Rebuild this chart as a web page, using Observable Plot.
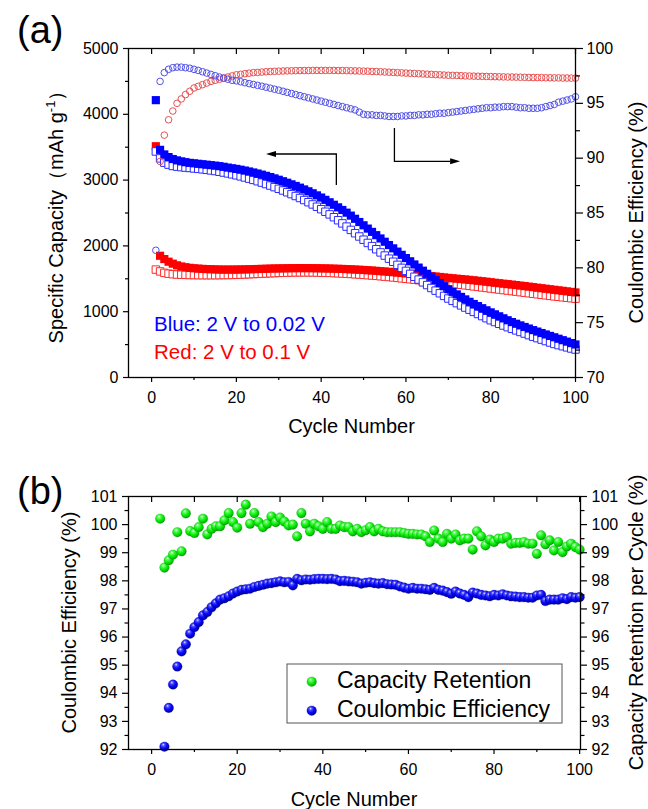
<!DOCTYPE html>
<html><head><meta charset="utf-8">
<script src="https://cdn.jsdelivr.net/npm/d3@7"></script>
<script src="https://cdn.jsdelivr.net/npm/@observablehq/plot@0.6"></script>
<style>
body{margin:0;background:#fff;}
#wrap{position:relative;width:648px;height:809px;overflow:hidden;background:#fff;}
#wrap svg{position:absolute;left:0;overflow:visible;}
</style></head><body><div id="wrap"></div>
<script>
const FONT = '"Liberation Sans", Arial, Helvetica, sans-serif';

// ---------- Panel (a) data: cycles 1..100 ----------
const blueDischarge = [4215,3460,3390,3350,3320,3300,3285,3272,3262,3255,
 3248,3241,3234,3227,3220,3212,3202,3190,3180,3170,
 3158,3145,3131,3116,3100,3083,3065,3046,3026,3005,
 2983,2960,2936,2911,2885,2858,2830,2800,2768,2735,
 2700,2663,2625,2586,2546,2505,2460,2412,2363,2313,
 2263,2213,2163,2113,2063,2013,1963,1913,1864,1815,
 1766,1718,1670,1623,1576,1530,1482,1435,1388,1342,
 1302,1263,1225,1187,1150,1117,1085,1053,1021,990,
 960,930,900,870,842,817,792,768,744,720,
 698,676,654,632,611,589,567,545,523,502];
const blueCharge = [3435,3330,3265,3235,3215,3205,3197,3190,3184,3178,
 3171,3164,3156,3147,3138,3127,3115,3102,3088,3073,
 3057,3040,3022,3003,2983,2962,2940,2917,2893,2868,
 2842,2815,2787,2758,2728,2697,2664,2630,2595,2558,
 2519,2479,2436,2390,2342,2293,2243,2193,2143,2094,
 2045,1997,1949,1901,1853,1806,1759,1712,1666,1620,
 1575,1531,1488,1446,1405,1360,1320,1280,1240,1200,
 1165,1130,1096,1063,1030,997,965,933,901,870,
 843,816,790,765,740,716,692,668,644,620,
 598,576,554,532,510,492,475,458,441,425];
const redDischarge = [3515,1850,1800,1760,1730,1705,1688,1676,1667,1660,
 1655,1651,1648,1645,1643,1641,1640,1640,1640,1641,
 1642,1643,1645,1647,1649,1651,1653,1655,1657,1658,
 1659,1660,1661,1662,1662,1662,1662,1661,1660,1659,
 1658,1656,1654,1652,1650,1647,1644,1641,1638,1634,
 1630,1626,1621,1616,1611,1606,1600,1594,1588,1582,
 1576,1570,1563,1556,1549,1542,1535,1528,1521,1514,
 1508,1502,1496,1490,1484,1477,1470,1463,1456,1448,
 1440,1433,1426,1419,1412,1405,1397,1389,1381,1373,
 1365,1357,1349,1341,1333,1325,1317,1309,1301,1293];
const redCharge = [1640,1612,1590,1578,1570,1565,1562,1560,1558,1557,
 1556,1555,1555,1555,1555,1556,1557,1558,1559,1561,
 1563,1566,1569,1572,1575,1578,1581,1584,1587,1590,
 1592,1594,1596,1597,1598,1598,1598,1597,1596,1594,
 1592,1590,1587,1584,1581,1577,1573,1569,1565,1560,
 1555,1550,1545,1539,1533,1527,1521,1514,1507,1500,
 1493,1486,1479,1472,1465,1458,1451,1444,1437,1430,
 1423,1416,1409,1401,1393,1385,1377,1369,1361,1353,
 1345,1337,1329,1321,1313,1305,1297,1289,1281,1273,
 1265,1257,1249,1241,1233,1226,1219,1212,1205,1198];
// Coulombic efficiency (%) — blue, cycles 1..100
const blueCE = [81.6,97.0,97.8,98.1,98.25,98.3,98.3,98.25,98.2,98.1,
 98.0,97.88,97.76,97.64,97.52,97.4,97.3,97.2,97.1,97.05,
 96.97,96.88,96.8,96.72,96.64,96.56,96.47,96.38,96.29,96.2,
 96.1,96.0,95.9,95.8,95.7,95.6,95.5,95.4,95.3,95.2,
 95.1,95.0,94.9,94.8,94.7,94.6,94.5,94.4,94.2,94.0,
 93.95,93.95,93.9,93.9,93.85,93.8,93.8,93.8,93.85,93.85,
 93.9,93.9,93.95,93.95,94.0,94.0,94.05,94.1,94.1,94.15,
 94.2,94.25,94.3,94.35,94.4,94.45,94.5,94.55,94.6,94.6,
 94.65,94.65,94.7,94.7,94.7,94.65,94.6,94.6,94.55,94.55,
 94.55,94.6,94.7,94.8,94.9,95.1,95.2,95.3,95.4,95.6];
// Coulombic efficiency (%) — red, cycles 2..100
const redCE = [89.7,92.1,93.5,94.3,95.0,95.4,95.8,96.1,96.4,
 96.55,96.7,96.85,97.0,97.1,97.2,97.3,97.4,97.5,97.6,
 97.65,97.7,97.75,97.8,97.82,97.85,97.88,97.9,97.92,97.93,
 97.95,97.96,97.97,97.98,97.98,97.99,97.99,98.0,98.0,98.0,
 98.0,98.0,98.0,97.99,97.99,97.98,97.97,97.96,97.95,97.94,
 97.93,97.91,97.9,97.88,97.86,97.84,97.82,97.8,97.78,97.76,
 97.74,97.72,97.7,97.68,97.66,97.64,97.62,97.6,97.58,97.56,
 97.55,97.54,97.52,97.5,97.49,97.48,97.47,97.46,97.45,97.44,
 97.43,97.42,97.41,97.4,97.4,97.39,97.38,97.37,97.36,97.35,
 97.35,97.34,97.33,97.33,97.32,97.32,97.31,97.31,97.3,97.3];

// ---------- Panel (b) data ----------
// Capacity retention per cycle (%), cycles 2..100
const retention = [100.21,98.47,98.73,98.93,99.73,99.05,100.4,99.77,99.7,
 99.91,100.21,99.65,99.85,99.94,99.94,100.15,100.41,100.09,99.89,
 100.41,100.71,100.03,100.41,100.09,99.91,100.03,100.29,100.09,100.25,
 100.11,99.97,100.0,99.58,100.41,100.03,99.76,100.03,99.94,99.85,
 100.09,99.85,99.85,99.97,99.91,99.91,99.76,99.85,99.73,99.8,
 99.91,99.76,99.85,99.76,99.73,99.73,99.73,99.73,99.7,99.67,
 99.67,99.65,99.65,99.58,99.38,99.79,99.5,99.38,99.67,99.5,
 99.65,99.44,99.5,99.5,99.11,99.76,99.58,99.26,99.47,99.38,
 99.5,99.5,99.56,99.32,99.35,99.35,99.38,99.32,99.32,98.96,
 99.62,99.3,99.44,99.08,99.38,99.02,99.22,99.32,99.2,99.11];
// Coulombic efficiency (%), cycles 3..100
const efficiencyB = [92.1,93.48,94.31,94.95,95.49,95.74,96.12,96.35,
 96.53,96.77,96.89,97.06,97.2,97.33,97.38,97.45,97.55,97.62,
 97.68,97.7,97.72,97.78,97.82,97.86,97.9,97.92,97.95,97.98,
 97.95,97.96,97.84,98.07,98.02,98.05,98.04,98.06,98.07,98.07,
 98.06,98.07,98.05,97.99,98.0,97.98,97.97,97.95,97.9,97.93,
 97.95,97.92,97.9,97.92,97.88,97.87,97.86,97.8,97.76,97.72,
 97.75,97.72,97.72,97.7,97.68,97.75,97.68,97.65,97.6,97.54,
 97.62,97.55,97.5,97.42,97.58,97.55,97.5,97.48,97.45,97.5,
 97.48,97.52,97.48,97.45,97.44,97.42,97.42,97.4,97.4,97.48,
 97.5,97.28,97.33,97.33,97.33,97.38,97.35,97.42,97.4,97.42];

// ---------- ticks ----------
const cycleMajor = [0,20,40,60,80,100];
const cycleMinor = [10,30,50,70,90];
const cycleTop = [0,10,20,30,40,50,60,70,80,90,100];
const capMajor = [0,1000,2000,3000,4000,5000];
const capMinor = [500,1500,2500,3500,4500];
const ceMajorA = [70,75,80,85,90,95,100];
const ceMinorA = [72.5,77.5,82.5,87.5,92.5,97.5];
const pctMajorB = [92,93,94,95,96,97,98,99,100,101];
const pctMinorB = [92.5,93.5,94.5,95.5,96.5,97.5,98.5,99.5,100.5];

// annotations (panel a, data units)
const arrowLeft = [[43.7,2918],[43.7,3389],[27.1,3389]];
const arrowRight = [[57.4,3784],[57.4,3278],[72.9,3278]];
const notes = [
  {text:"Blue: 2 V to 0.02 V", x:0.7, y:704, color:"#0000ff"},
  {text:"Red: 2 V to 0.1 V", x:0.7, y:272, color:"#ff0000"}
];

// ---------- build ----------
const toCap = ce => (ce - 70) / 30 * 5000;
const fromCap = v => v / 5000 * 30 + 70;

const rowsA = blueDischarge.map((v,i) => ({c:i+1, bd:v, bc:blueCharge[i], rd:redDischarge[i], rc:redCharge[i], bce:toCap(blueCE[i])}));
const rowsRCE = redCE.map((v,i) => ({c:i+2, y:toCap(v)}));
const rowsRet = retention.map((v,i) => ({c:i+2, y:v}));
const rowsEff = efficiencyB.map((v,i) => ({c:i+3, y:v}));

const blank = () => "";
const TW = 1.2;

const chartA = Plot.plot({
  width:648, height:420, marginTop:48, marginBottom:43, marginLeft:128, marginRight:73,
  style:{fontFamily:FONT, fontSize:"16px", color:"black", background:"transparent", overflow:"visible"},
  x:{domain:[-5.45,100], label:null},
  y:{domain:[0,5000], label:null},
  marks:[
    Plot.dot(rowsA, {x:"c", y:"rc", symbol:"square", r:4.2, fill:"white", stroke:"#ff2a2a", strokeWidth:1}),
    Plot.dot(rowsA, {x:"c", y:"rd", symbol:"square", r:4.6, fill:"#ff0000"}),
    Plot.dot(rowsA, {x:"c", y:"bc", symbol:"square", r:4.2, fill:"white", stroke:"#2a2aff", strokeWidth:1}),
    Plot.dot(rowsA, {x:"c", y:"bd", symbol:"square", r:4.6, fill:"#0000ff"}),
    Plot.dot(rowsRCE, {x:"c", y:"y", r:3.3, fill:"none", stroke:"#e85050", strokeWidth:1}),
    Plot.dot(rowsA, {x:"c", y:"bce", r:3.3, fill:"none", stroke:"#5050e8", strokeWidth:1}),
    Plot.frame({stroke:"black", strokeWidth:1.3}),
    Plot.axisX({ticks:cycleMajor, anchor:"bottom", tickSize:5, tickPadding:9, label:null, strokeWidth:TW, fontSize:16, tickFormat:d=>String(d)}),
    Plot.axisX({ticks:cycleMinor, anchor:"bottom", tickSize:3, label:null, strokeWidth:TW, tickFormat:blank}),
    Plot.axisX({ticks:cycleTop, anchor:"top", tickSize:5, dy:5, label:null, strokeWidth:TW, tickFormat:blank}),
    Plot.axisY({ticks:capMajor, anchor:"left", tickSize:5, tickPadding:5, label:null, strokeWidth:TW, fontSize:16, tickFormat:d=>String(d)}),
    Plot.axisY({ticks:capMinor, anchor:"left", tickSize:3, label:null, strokeWidth:TW, tickFormat:blank}),
    Plot.axisY({ticks:ceMajorA.map(toCap), anchor:"right", tickSize:7, tickPadding:4, label:null, strokeWidth:TW, fontSize:16, tickFormat:v=>String(Math.round(fromCap(v)))}),
    Plot.axisY({ticks:ceMinorA.map(toCap), anchor:"right", tickSize:4, label:null, strokeWidth:TW, tickFormat:blank})
  ]
});

const chartB = Plot.plot({
  width:648, height:389, marginTop:76, marginBottom:60, marginLeft:128, marginRight:68,
  style:{fontFamily:FONT, fontSize:"16px", color:"black", background:"transparent", overflow:"visible"},
  x:{domain:[-5.4,100.2], label:null},
  y:{domain:[92,101], label:null},
  marks:[
    Plot.dot(rowsRet, {x:"c", y:"y", r:4.8, fill:"url(#ballGreen)", stroke:"#0a9a0a", strokeWidth:0.3}),
    Plot.dot(rowsEff, {x:"c", y:"y", r:4.8, fill:"url(#ballBlue)", stroke:"#000090", strokeWidth:0.3}),
    Plot.frame({stroke:"black", strokeWidth:1.3}),
    Plot.axisX({ticks:cycleMajor, anchor:"bottom", tickSize:5, tickPadding:9, label:null, strokeWidth:TW, fontSize:16, tickFormat:d=>String(d)}),
    Plot.axisX({ticks:cycleMinor, anchor:"bottom", tickSize:3, label:null, strokeWidth:TW, tickFormat:blank}),
    Plot.axisX({ticks:cycleTop, anchor:"top", tickSize:5, dy:5, label:null, strokeWidth:TW, tickFormat:blank}),
    Plot.axisY({ticks:pctMajorB, anchor:"left", tickSize:6, tickPadding:5, label:null, strokeWidth:TW, fontSize:16, tickFormat:d=>String(d)}),
    Plot.axisY({ticks:pctMinorB, anchor:"left", tickSize:3.5, label:null, strokeWidth:TW, tickFormat:blank}),
    Plot.axisY({ticks:pctMajorB, anchor:"right", tickSize:6, tickPadding:5, label:null, strokeWidth:TW, fontSize:16, tickFormat:d=>String(d)}),
    Plot.axisY({ticks:pctMinorB, anchor:"right", tickSize:3.5, label:null, strokeWidth:TW, tickFormat:blank})
  ]
});

const wrap = document.getElementById("wrap");
chartA.style.top = "0px";
chartB.style.top = "420px";
wrap.appendChild(chartA);
wrap.appendChild(chartB);

// ---------- decorations ----------
const sA = d3.select(chartA), sB = d3.select(chartB);
const xA = chartA.scale("x"), yA = chartA.scale("y");

function addText(svg, str, x, y, size, opts={}) {
  const t = svg.append("text").attr("x", x).attr("y", y)
    .attr("font-family", FONT).attr("font-size", size)
    .attr("fill", opts.fill || "black")
    .attr("text-anchor", opts.anchor || "start");
  if (opts.rotate) t.attr("transform", `rotate(${opts.rotate},${x},${y})`);
  t.text(str);
  return t;
}

// panel labels
addText(sA, "(a)", 17, 43, 38);
addText(sB, "(b)", 17, 84, 38);

// axis titles A
addText(sA, "Cycle Number", 351.5, 433, 20, {anchor:"middle"});
{
  const t = sA.append("text").attr("font-family", FONT).attr("font-size", 20)
    .attr("text-anchor", "middle").attr("transform", "translate(62.5,212) rotate(-90)");
  t.append("tspan").text("Specific Capacity\uFF08mAh g");
  t.append("tspan").attr("dy", -8).attr("font-size", 13).text("-1");
  t.append("tspan").attr("dy", 8).text("\uFF09");
}
addText(sA, "Coulombic Efficiency (%)", 642.5, 212.5, 20, {anchor:"middle", rotate:-90});

// axis titles B
addText(sB, "Cycle Number", 354, 385.7, 20, {anchor:"middle"});
addText(sB, "Coulombic Efficiency (%)", 76, 202.5, 20, {anchor:"middle", rotate:-90});
addText(sB, "Capacity Retention per Cycle (%)", 642.5, 202.5, 20, {anchor:"middle", rotate:-90});

// notes
notes.forEach(n => addText(sA, n.text, xA.apply(n.x), yA.apply(n.y), 20.5, {fill:n.color}));

// arrows
function arrow(svg, pts) {
  const p = pts.map(([x,y]) => [xA.apply(x), yA.apply(y)]);
  const [x1,y1] = p[p.length-2], [x2,y2] = p[p.length-1];
  const a = Math.atan2(y2-y1, x2-x1), L = 10, W = 3;
  const bx = x2 - L*Math.cos(a), by = y2 - L*Math.sin(a);
  const line = p.slice(0,-1).concat([[bx,by]]);
  svg.append("path").attr("d", d3.line()(line)).attr("fill","none").attr("stroke","black").attr("stroke-width",1.3);
  svg.append("path").attr("d", `M${x2},${y2}L${bx - W*Math.sin(a)},${by + W*Math.cos(a)}L${bx + W*Math.sin(a)},${by - W*Math.cos(a)}Z`).attr("fill","black");
}
arrow(sA, arrowLeft);
arrow(sA, arrowRight);

// sphere gradients
const defs = sB.insert("defs", ":first-child");
function ball(id, stops) {
  const g = defs.append("radialGradient").attr("id", id).attr("cx","40%").attr("cy","35%").attr("r","65%").attr("fx","38%").attr("fy","28%");
  stops.forEach(([o,c]) => g.append("stop").attr("offset", o).attr("stop-color", c));
}
ball("ballGreen", [["0%","#f2fff2"],["22%","#60ff60"],["55%","#10f010"],["85%","#00c800"],["100%","#008a00"]]);
ball("ballBlue", [["0%","#e8e8ff"],["22%","#5050ff"],["55%","#0a0aff"],["85%","#0000c8"],["100%","#00006a"]]);

// legend B
sB.append("rect").attr("x", 287).attr("y", 244).attr("width", 275).attr("height", 59)
  .attr("fill", "white").attr("stroke", "#555").attr("stroke-width", 1);
sB.append("circle").attr("cx", 311.7).attr("cy", 261.7).attr("r", 4.8).attr("fill", "url(#ballGreen)").attr("stroke","#0a9a0a").attr("stroke-width",0.3);
sB.append("circle").attr("cx", 311.7).attr("cy", 290.7).attr("r", 4.8).attr("fill", "url(#ballBlue)").attr("stroke","#000090").attr("stroke-width",0.3);
addText(sB, "Capacity Retention", 337, 268.3, 23);
addText(sB, "Coulombic Efficiency", 337, 296.7, 23);
</script></body></html>
